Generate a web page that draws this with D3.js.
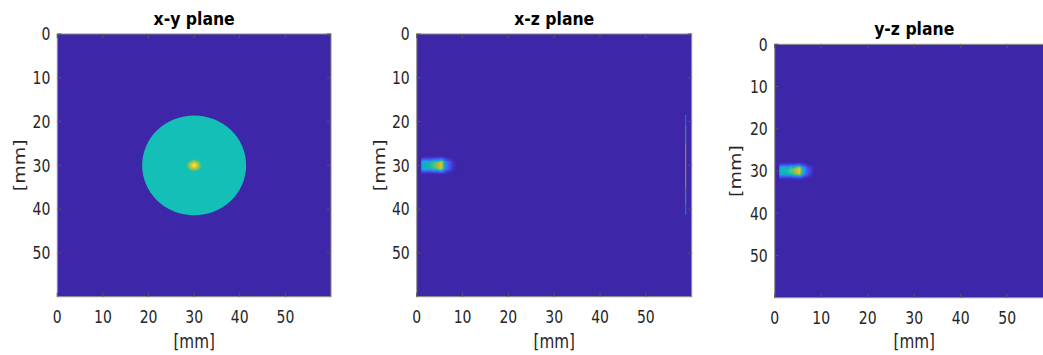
<!DOCTYPE html>
<html><head><meta charset="utf-8">
<script src="https://cdn.jsdelivr.net/npm/d3@7"></script>
<style>body{margin:0;background:#fff}svg{display:block}</style>
</head><body>
<script>
// ---------- data ----------
const panelTitles = ["x-y plane", "x-z plane", "y-z plane"];
const axisTicks = [0, 10, 20, 30, 40, 50];
const axisDomain = [0, 60];
const axisLabel = "[mm]";

// parula colormap stops
const parulaPositions = [0, 0.127, 0.254, 0.381, 0.508, 0.635, 0.762, 0.889, 1];
const parulaColors = ["#3e26a8", "#484df0", "#327cfc", "#20a5e3", "#0bbdbd", "#64cd6f", "#c5c22a", "#fec338", "#f9fb15"];

const backgroundValue = 0;

// x-y plane: circular inclusion with focal spot
const inclusionCenter = [30, 30];
const inclusionRadius = 11.4;
const inclusionValue = 0.52;
const spotCenter = [30, 30];
const spotSemiAxes = [1.9, 1.6];
const spotRadius = [0, 0.2, 0.4, 0.6, 0.8, 1.0];
const spotGain = [1, 0.9, 0.62, 0.3, 0.08, 0];
const spotPeak = 0.99;

// x-z / y-z plane: beam along z at lateral position 30
const beamCenter = 30;
const beamAxialZ = [0, 1.05, 1.1, 1.5, 2, 2.5, 3, 3.5, 4, 4.5, 5, 5.4, 5.8, 6.2, 6.6, 7, 7.5, 8, 8.6];
const beamAxialValue = [0, 0, 0.48, 0.5, 0.51, 0.53, 0.56, 0.6, 0.65, 0.72, 0.81, 0.9, 0.62, 0.4, 0.28, 0.19, 0.11, 0.05, 0];
const beamLateralOffset = [0, 0.5, 0.8, 1.1, 1.4, 1.8, 2.2];
const beamLateralGain = [1, 0.97, 0.86, 0.56, 0.28, 0.08, 0];

// x-z plane: thin rim of inclusion near z = 58.7
const rimZ = 58.7;
const rimY = [18.5, 21, 25, 30, 35, 39, 41.3];
const rimValue = [0.3, 0.4, 0.8, 0.88, 0.8, 0.4, 0.3];

// ---------- layout ----------
const W = 1043, H = 355;
const panels = [
  {x0: 57.3, x1: 331, y0: 34, y1: 296.7, titleY: 25, ylabX: 18.5, kind: "xy"},
  {x0: 416.7, x1: 691.7, y0: 34, y1: 296.7, titleY: 25, ylabX: 378.5, kind: "xz"},
  {x0: 774.7, x1: 1053.7, y0: 44.3, y1: 297.7, titleY: 35, ylabX: 735, kind: "yz"}
];
const textColor = "#262626";
const fontFam = "'DejaVu Sans', sans-serif";
const squeeze = 0.8;

const color = d3.scaleLinear().domain(parulaPositions).range(parulaColors)
  .interpolate(d3.interpolateRgb).clamp(true);
const spotScale = d3.scaleLinear().domain(spotRadius).range(spotGain).clamp(true);
const axialScale = d3.scaleLinear().domain(beamAxialZ).range(beamAxialValue).clamp(true);
const lateralScale = d3.scaleLinear().domain(beamLateralOffset).range(beamLateralGain).clamp(true);

const svg = d3.select("body").append("svg").attr("width", W).attr("height", H);
const defs = svg.append("defs");

panels.forEach((p, i) => {
  const xs = d3.scaleLinear().domain(axisDomain).range([p.x0, p.x1]);
  const ys = d3.scaleLinear().domain(axisDomain).range([p.y0, p.y1]);
  const g = svg.append("g");
  const clipId = "clip" + i;
  defs.append("clipPath").attr("id", clipId).append("rect")
    .attr("x", p.x0).attr("y", p.y0).attr("width", p.x1 - p.x0).attr("height", p.y1 - p.y0);
  const plot = g.append("g").attr("clip-path", `url(#${clipId})`);
  plot.append("rect").attr("x", p.x0).attr("y", p.y0)
    .attr("width", p.x1 - p.x0).attr("height", p.y1 - p.y0)
    .attr("fill", color(backgroundValue));

  const step = 0.25;
  if (p.kind === "xy") {
    plot.append("ellipse")
      .attr("cx", xs(inclusionCenter[0])).attr("cy", ys(inclusionCenter[1]))
      .attr("rx", xs(inclusionRadius) - xs(0)).attr("ry", ys(inclusionRadius) - ys(0))
      .attr("fill", color(inclusionValue));
    const cells = [];
    const s = 0.2;
    for (let x = spotCenter[0] - 2.4; x < spotCenter[0] + 2.4; x += s) {
      for (let y = spotCenter[1] - 2.4; y < spotCenter[1] + 2.4; y += s) {
        const dx = (x + s / 2 - spotCenter[0]) / spotSemiAxes[0];
        const dy = (y + s / 2 - spotCenter[1]) / spotSemiAxes[1];
        const gn = spotScale(Math.sqrt(dx * dx + dy * dy));
        if (gn > 0) cells.push({x, y, s, v: inclusionValue + (spotPeak - inclusionValue) * gn});
      }
    }
    plot.selectAll("rect.cell").data(cells).join("rect").attr("class", "cell")
      .attr("x", d => xs(d.x)).attr("y", d => ys(d.y))
      .attr("width", d => xs(d.x + d.s) - xs(d.x) + 0.35)
      .attr("height", d => ys(d.y + d.s) - ys(d.y) + 0.35)
      .attr("fill", d => color(d.v));
  } else {
    const cells = [];
    for (let z = 0; z < 9; z += step) {
      for (let y = beamCenter - 2.5; y < beamCenter + 2.5; y += step) {
        const v = axialScale(z + step / 2) * lateralScale(Math.abs(y + step / 2 - beamCenter));
        if (v > 0.005) cells.push({z, y, v});
      }
    }
    plot.selectAll("rect.cell").data(cells).join("rect").attr("class", "cell")
      .attr("x", d => xs(d.z)).attr("y", d => ys(d.y))
      .attr("width", d => xs(d.z + step) - xs(d.z) + 0.35)
      .attr("height", d => ys(d.y + step) - ys(d.y) + 0.35)
      .attr("fill", d => color(d.v));
    if (p.kind === "xz") {
      const segs = d3.pairs(rimY.map((y, k) => ({y, v: rimValue[k]})));
      plot.selectAll("line.rim").data(segs).join("line").attr("class", "rim")
        .attr("x1", xs(rimZ)).attr("x2", xs(rimZ))
        .attr("y1", d => ys(d[0].y)).attr("y2", d => ys(d[1].y))
        .attr("stroke", d => color((d[0].v + d[1].v) / 2))
        .attr("stroke-width", 1).attr("stroke-opacity", 0.7);
    }
  }

  // box
  g.append("rect").attr("x", p.x0).attr("y", p.y0)
    .attr("width", p.x1 - p.x0).attr("height", p.y1 - p.y0)
    .attr("fill", "none").attr("stroke", "#8a8a8a").attr("stroke-width", 1);
  const tl = 4;
  const tk = g.append("g").attr("stroke", "#555").attr("stroke-width", 1);
  axisTicks.forEach(t => {
    const X = xs(t), Y = ys(t);
    tk.append("line").attr("x1", X).attr("x2", X).attr("y1", p.y1).attr("y2", p.y1 - tl);
    tk.append("line").attr("x1", X).attr("x2", X).attr("y1", p.y0).attr("y2", p.y0 + tl);
    tk.append("line").attr("x1", p.x0).attr("x2", p.x0 + tl).attr("y1", Y).attr("y2", Y);
    tk.append("line").attr("x1", p.x1).attr("x2", p.x1 - tl).attr("y1", Y).attr("y2", Y);
  });

  // tick labels
  g.selectAll("text.xt").data(axisTicks).join("text").attr("class", "xt")
    .attr("transform", d => `translate(${xs(d)},${p.y1 + 26}) scale(${squeeze},1)`)
    .attr("text-anchor", "middle").attr("font-family", fontFam).attr("font-size", 17.5)
    .attr("fill", textColor).text(d => d);
  g.selectAll("text.yt").data(axisTicks).join("text").attr("class", "yt")
    .attr("transform", d => `translate(${p.x0 - 7},${ys(d) + 6.3}) scale(${squeeze},1)`)
    .attr("text-anchor", "end").attr("font-family", fontFam).attr("font-size", 17.5)
    .attr("fill", textColor).text(d => d);

  // axis labels
  const cx = (p.x0 + p.x1) / 2, cy = (p.y0 + p.y1) / 2;
  g.append("text").attr("transform", `translate(${cx},348) scale(${squeeze},1)`)
    .attr("text-anchor", "middle").attr("font-family", fontFam).attr("font-size", 19)
    .attr("fill", textColor).text(axisLabel);
  g.append("text").attr("transform", `translate(${p.ylabX + 6},${cy}) scale(${squeeze},1) rotate(-90)`)
    .attr("text-anchor", "middle").attr("font-family", fontFam).attr("font-size", 19)
    .attr("fill", textColor).text(axisLabel);

  // title
  g.append("text").attr("transform", `translate(${cx},${p.titleY}) scale(0.87,1)`)
    .attr("text-anchor", "middle").attr("font-family", fontFam).attr("font-weight", "bold")
    .attr("font-size", 18).attr("fill", "#000").text(panelTitles[i]);
});
</script>
</body></html>
